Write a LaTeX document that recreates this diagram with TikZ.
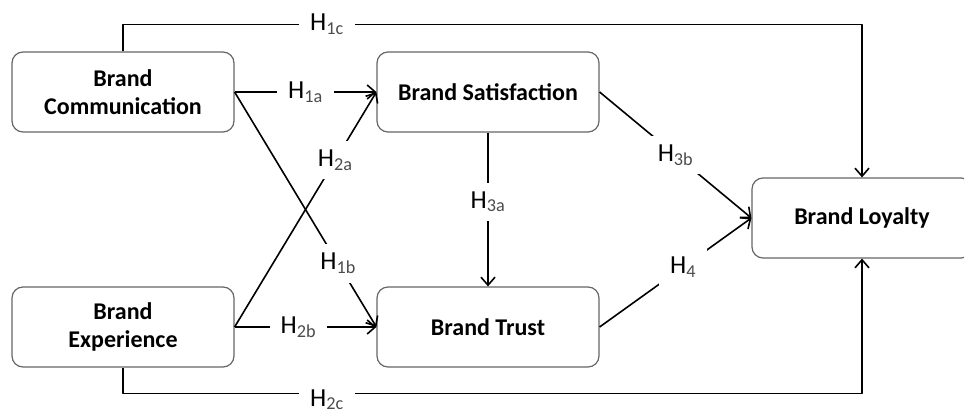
\documentclass[tikz,border=0pt]{standalone}
\usepackage{fontspec}
\setmainfont{Carlito}
\usetikzlibrary{arrows.meta}
\newcommand{\hyp}[1]{H\textsubscript{\color{black!70}#1}}
\begin{document}
\begin{tikzpicture}[
	x=1pt,y=-1pt,
	>={Straight Barb[length=8pt,width=14pt]},
	line width=1.6pt,
	line join=round,
	construct/.style={draw=black!60,line width=1.2pt,rounded corners=11pt,
		minimum width=222pt,minimum height=80pt,align=center,
		font=\fontsize{24}{28}\selectfont\bfseries},
	hlabel/.style={fill=white,inner xsep=11pt,inner ysep=9pt,font=\fontsize{26}{28}\selectfont}
	]
	\clip (0,0) rectangle (964,415);
	\node[construct] (comm) at (123,92) {Brand\\Communication};
	\node[construct] (exp) at (123,327) {Brand\\Experience};
	\node[construct] (sat) at (488,92) {Brand Satisfaction};
	\node[construct] (trust) at (488,327) {Brand Trust};
	\node[construct,minimum width=220pt] (loyal) at (862,218) {Brand Loyalty};
	\begin{scope}[->]
		\draw (comm.north) -- ++(0,-27) -| (loyal.north) node[pos=0.138,hlabel] {\hyp{1c}};
		\draw (exp.south) -- ++(0,26) -| (loyal.south) node[pos=0.138,hlabel,yshift=-6pt] {\hyp{2c}};
		\draw (comm.east) -- (sat.west) node[midway,hlabel] {\hyp{1a}};
		\draw (comm.east) -- (trust.west) node[pos=0.73,hlabel] {\hyp{1b}};
		\draw (exp.east) -- (sat.west) node[pos=0.71,hlabel] {\hyp{2a}};
		\draw (exp.east) -- (trust.west) node[pos=0.45,hlabel] {\hyp{2b}};
		\draw (sat.south) -- (trust.north) node[pos=0.45,hlabel] {\hyp{3a}};
		\draw (sat.east) -- (loyal.west) node[midway,hlabel] {\hyp{3b}};
		\draw (trust.east) -- (loyal.west) node[pos=0.55,hlabel] {\hyp{4}};
	\end{scope}
\end{tikzpicture}
\end{document}
